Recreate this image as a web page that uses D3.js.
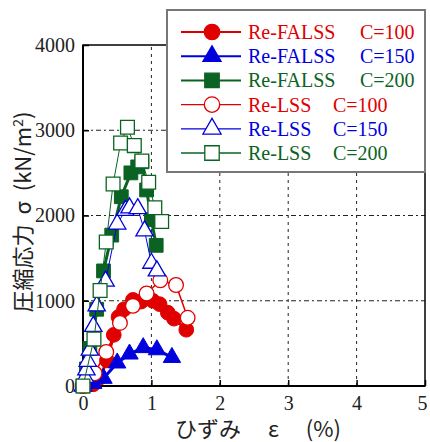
<!DOCTYPE html>
<html>
<head>
<meta charset="utf-8">
<script src="https://cdn.jsdelivr.net/npm/d3@7"></script>
<style>
  body { margin: 0; background: #fff; }
</style>
</head>
<body>
<div id="chart"></div>
<script>
// datos [ひずみ %, 応力 kN/m2]

const faC100 = [[0,0],[0.15,20],[0.25,100],[0.35,300],[0.45,600],[0.52,810],[0.6,900],[0.73,1010],[0.85,990],[0.93,1030],[1.02,1000],[1.12,960],[1.24,860],[1.33,790],[1.51,660]]
const faC150 = [[0,0],[0.15,30],[0.3,90],[0.5,270],[0.68,375],[0.88,450],[1.08,425],[1.3,335]]
const faC200 = [[0,0],[0.05,200],[0.1,440],[0.2,900],[0.3,1350],[0.42,1770],[0.56,2220],[0.7,2500],[0.8,2570],[0.86,2630],[0.93,2300],[1.0,1950],[1.07,1650]]
const lsC100 = [[0,0],[0.17,150],[0.34,400],[0.54,740],[0.73,940],[0.93,1085],[1.13,1240],[1.36,1185],[1.53,800]]
const lsC150 = [[0,0],[0.03,100],[0.05,190],[0.07,290],[0.1,420],[0.15,700],[0.2,940],[0.33,1230],[0.5,1900],[0.62,2060],[0.68,2090],[0.8,2080],[0.9,1820],[1.0,1440],[1.08,1350]]
const lsC200 = [[0,0],[0.16,550],[0.25,1120],[0.34,1690],[0.44,2370],[0.55,2850],[0.65,3035],[0.75,2820],[0.86,2640],[0.96,2390],[1.05,2090],[1.15,1930]]

const xTicks = [0,1,2,3,4,5]
const yTicks = [0,1000,2000,3000,4000]

const seriesNames = ["Re-FALSS","Re-FALSS","Re-FALSS","Re-LSS","Re-LSS","Re-LSS"]
const seriesC = ["C=100","C=150","C=200","C=100","C=150","C=200"]

// constantes

const width = 430
const height = 442
const margin = {top: 45, bottom: 56, left: 83, right: 5}
const serif = "'Liberation Serif', 'Times New Roman', serif"

const red = "#e00000"
const blue = "#0000dd"
const green = "#0b6323"

const series = [
    {data: faC100, color: red, shape: "circle", filled: true, lw: 3},
    {data: faC150, color: blue, shape: "triangle", filled: true, lw: 3},
    {data: faC200, color: green, shape: "square", filled: true, lw: 3},
    {data: lsC100, color: red, shape: "circle", filled: false, lw: 1.5},
    {data: lsC150, color: blue, shape: "triangle", filled: false, lw: 1},
    {data: lsC200, color: green, shape: "square", filled: false, lw: 1}
]

const svg = d3.select("#chart").append("svg").attr("width", width).attr("height", height)

const x = d3.scaleLinear().domain([0,5]).range([margin.left, width - margin.right])
const y = d3.scaleLinear().domain([0,4000]).range([height - margin.bottom, margin.top])

// grid

const grid = svg.append("g").attr("id", "grid")
grid.selectAll("line.gx").data(xTicks.slice(1,5))
    .join("line").attr("class","gx")
    .attr("x1", d => x(d)).attr("x2", d => x(d))
    .attr("y1", y(0)).attr("y2", y(4000))
    .attr("stroke", "#222").attr("stroke-width", 1).attr("stroke-dasharray", "3,4")
grid.selectAll("line.gy").data(yTicks.slice(1,4))
    .join("line").attr("class","gy")
    .attr("x1", x(0)).attr("x2", x(5))
    .attr("y1", d => y(d)).attr("y2", d => y(d))
    .attr("stroke", "#222").attr("stroke-width", 1).attr("stroke-dasharray", "5,3,2,3")

// ejes

const xAxis = d3.axisBottom(x).tickValues(xTicks).tickFormat(d3.format("d")).tickSize(-6).tickPadding(10)
const yAxis = d3.axisLeft(y).tickValues(yTicks).tickFormat(d3.format("d")).tickSize(-6).tickPadding(8)

const xAxisGroup = svg.append("g").attr("transform", `translate(0,${y(0)})`).call(xAxis)
const yAxisGroup = svg.append("g").attr("transform", `translate(${x(0)},0)`).call(yAxis)
;[xAxisGroup, yAxisGroup].forEach(g => {
    g.select(".domain").remove()
    g.selectAll("text").style("font-size", "20px").style("font-family", serif).attr("fill", "#222")
    g.selectAll("line").attr("stroke", "#000").attr("stroke-width", 1.5)
})
xAxisGroup.selectAll("text").filter(d => d === 5).attr("dx", -3)

// marco

svg.append("rect")
    .attr("x", x(0)).attr("y", y(4000))
    .attr("width", x(5) - x(0)).attr("height", y(0) - y(4000))
    .attr("fill", "none").attr("stroke", "#000").attr("stroke-width", 1.5)
svg.append("line").attr("x1", x(0)).attr("x2", x(0)).attr("y1", y(4000)).attr("y2", y(0))
    .attr("stroke", "#000").attr("stroke-width", 2)
svg.append("line").attr("x1", x(0)).attr("x2", x(5)).attr("y1", y(0)).attr("y2", y(0))
    .attr("stroke", "#000").attr("stroke-width", 2)

// series

const line = d3.line().x(d => x(d[0])).y(d => y(d[1]))
const sym = {circle: d3.symbolCircle, triangle: d3.symbolTriangle, square: d3.symbolSquare}
const symSize = {circle: 170, triangle: 130, square: 190}

const plot = svg.append("g").attr("id", "plot")
series.forEach(s => {
    plot.append("path").datum(s.data)
        .attr("d", line).attr("fill", "none")
        .attr("stroke", s.color).attr("stroke-width", s.lw)
    plot.selectAll(null).data(s.data)
        .join("path")
        .attr("transform", d => `translate(${x(d[0])},${y(d[1])})`)
        .attr("d", d3.symbol().type(sym[s.shape]).size(symSize[s.shape]))
        .attr("fill", s.filled ? s.color : "#fff")
        .attr("stroke", s.color).attr("stroke-width", s.filled ? 1 : 1.3)
})

// leyenda

const legend = svg.append("g").attr("id", "legend")
legend.append("rect")
    .attr("x", 167).attr("y", 10).attr("width", 258).attr("height", 162)
    .attr("fill", "#fff").attr("stroke", "#777").attr("stroke-width", 2)

series.forEach((s, i) => {
    const ly = 32 + i * 24.2
    const g = legend.append("g")
    g.append("line").attr("x1", 181).attr("x2", 241).attr("y1", ly).attr("y2", ly)
        .attr("stroke", s.color).attr("stroke-width", s.filled ? 2 : 1.3)
    g.append("path")
        .attr("transform", `translate(212,${ly})`)
        .attr("d", d3.symbol().type(sym[s.shape]).size(symSize[s.shape] * 1.1))
        .attr("fill", s.filled ? s.color : "#fff")
        .attr("stroke", s.color).attr("stroke-width", 1.3)
    g.append("text").attr("x", 248).attr("y", ly + 7)
        .attr("fill", s.color).style("font-size", "20px").style("font-family", serif)
        .text(seriesNames[i])
    g.append("text").attr("x", i < 3 ? 360 : 333).attr("y", ly + 7)
        .attr("fill", s.color).style("font-size", "20px").style("font-family", serif)
        .text(seriesC[i])
})

// títulos ejes

svg.append("text")
    .attr("transform", `translate(31,212) rotate(-90)`)
    .attr("text-anchor", "middle")
    .style("font-family", "'Noto Sans CJK JP', sans-serif")
    .style("font-size", "22px").attr("fill", "#222")
    .html("圧縮応力 &#160;σ &#160;(kN/m<tspan dy='-8' font-size='14px'>2</tspan><tspan dy='8'>)</tspan>")

svg.append("text")
    .attr("x", 258).attr("y", 437)
    .attr("text-anchor", "middle")
    .style("font-family", "'Noto Sans CJK JP', sans-serif")
    .style("font-size", "22px").attr("fill", "#222")
    .attr("xml:space", "preserve")
    .text("ひずみ　 ε　 (%)")
</script>
</body>
</html>
